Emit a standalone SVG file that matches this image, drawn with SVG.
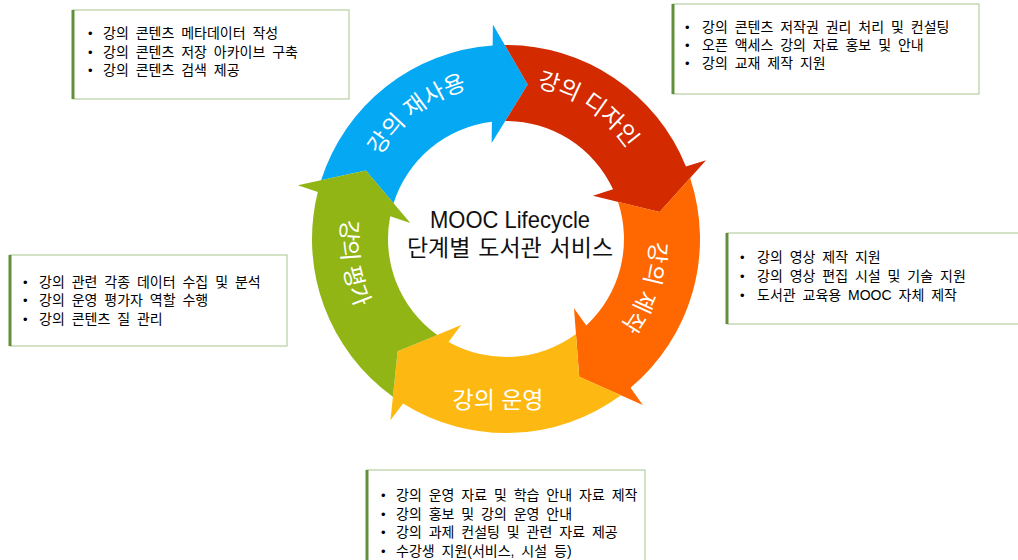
<svg xmlns="http://www.w3.org/2000/svg" width="1018" height="560" viewBox="0 0 1018 560">
<defs>
<path id="arrow" d="M77.83 -177.71 A194 194 0 0 1 193.87 6.96 L214.8 9.38 L151.37 37.74 L96.91 -4.23 L117.99 -1.8 A118 118 0 0 0 47.3 -108.1 L82.67 -132.3 Z"/>
<path id="arcReuse" d="M361.25 249.06 A146 146 0 0 1 561.87 95.11"/>
<path id="arcDesign" d="M442.23 98.66 A146 146 0 0 1 651.63 240.44"/>
<path id="arcProd" d="M614.68 144.53 A144 144 0 0 1 533.48 380.35"/>
<path id="arcEval" d="M402.16 110.77 A165 165 0 0 0 446.87 393.04"/>
</defs>
<style>
.box{fill:#fff;stroke:#A7C38E;stroke-width:1}
.edge{stroke:#628F3A;stroke-width:3}
.bt{font-family:"Liberation Sans","Noto Sans CJK KR",sans-serif;font-size:14px;fill:#000;word-spacing:3px}
.bl{font-family:"Liberation Sans",sans-serif;font-size:13px;fill:#000}
.lbl{font-family:"Liberation Sans","Noto Sans CJK KR",sans-serif;font-size:23px;fill:#fff}
.ctr{font-family:"Liberation Sans","Noto Sans CJK KR",sans-serif;fill:#111;text-anchor:middle}
</style>
<rect width="1018" height="560" fill="#fff"/>

<g id="cycle">
<g id="stage-reuse">
<use href="#arrow" transform="translate(506 239) rotate(-96)" fill="#05A8F3"/>
<text class="lbl"><textPath href="#arcReuse" startOffset="50%" text-anchor="middle">강의 재사용</textPath></text>
</g>
<g id="stage-design">
<use href="#arrow" transform="translate(506 239) rotate(-24)" fill="#D32A00"/>
<text class="lbl"><textPath href="#arcDesign" startOffset="50%" text-anchor="middle">강의 디자인</textPath></text>
</g>
<g id="stage-production">
<use href="#arrow" transform="translate(506 239) rotate(48)" fill="#FF6700"/>
<text class="lbl"><textPath href="#arcProd" startOffset="50%" text-anchor="middle">강의 제작</textPath></text>
</g>
<g id="stage-operation">
<use href="#arrow" transform="translate(506 239) rotate(120)" fill="#FDB912"/>
<text class="lbl" x="498" y="408" text-anchor="middle">강의 운영</text>
</g>
<g id="stage-evaluation">
<use href="#arrow" transform="translate(506 239) rotate(192)" fill="#90B514"/>
<text class="lbl"><textPath href="#arcEval" startOffset="50%" text-anchor="middle">강의 평가</textPath></text>
</g>
</g>

<g id="center-title">
<text class="ctr" x="510" y="228" font-size="24" textLength="160" lengthAdjust="spacingAndGlyphs">MOOC Lifecycle</text>
<text class="ctr" x="510" y="256" font-size="23" word-spacing="1.5">단계별 도서관 서비스</text>
</g>

<g id="box-reuse">
<rect class="box" x="73" y="10" width="276" height="89"/>
<line class="edge" x1="73" y1="10" x2="73" y2="99"/>
<text class="bl" x="88" y="38">•</text><text class="bt" x="103" y="38">강의 콘텐츠 메타데이터 작성</text>
<text class="bl" x="88" y="57">•</text><text class="bt" x="103" y="57">강의 콘텐츠 저장 아카이브 구축</text>
<text class="bl" x="88" y="75">•</text><text class="bt" x="103" y="75">강의 콘텐츠 검색 제공</text>
</g>

<g id="box-design">
<rect class="box" x="673" y="4" width="306" height="90"/>
<line class="edge" x1="673" y1="4" x2="673" y2="94"/>
<text class="bl" x="685" y="32">•</text><text class="bt" x="702" y="32">강의 콘텐츠 저작권 권리 처리 및 컨설팅</text>
<text class="bl" x="685" y="50">•</text><text class="bt" x="702" y="50">오픈 액세스 강의 자료 홍보 및 안내</text>
<text class="bl" x="685" y="68">•</text><text class="bt" x="702" y="68">강의 교재 제작 지원</text>
</g>

<g id="box-production">
<rect class="box" x="727" y="233" width="300" height="91"/>
<line class="edge" x1="727" y1="233" x2="727" y2="324"/>
<text class="bl" x="740" y="262">•</text><text class="bt" x="757" y="262">강의 영상 제작 지원</text>
<text class="bl" x="740" y="281">•</text><text class="bt" x="757" y="281">강의 영상 편집 시설 및 기술 지원</text>
<text class="bl" x="740" y="300">•</text><text class="bt" x="757" y="300">도서관 교육용 MOOC 자체 제작</text>
</g>

<g id="box-evaluation">
<rect class="box" x="10" y="255" width="277" height="91"/>
<line class="edge" x1="10" y1="255" x2="10" y2="346"/>
<text class="bl" x="23" y="287">•</text><text class="bt" x="39" y="287">강의 관련 각종 데이터 수집 및 분석</text>
<text class="bl" x="23" y="305">•</text><text class="bt" x="39" y="305">강의 운영 평가자 역할 수행</text>
<text class="bl" x="23" y="324">•</text><text class="bt" x="39" y="324">강의 콘텐츠 질 관리</text>
</g>

<g id="box-operation">
<rect class="box" x="367" y="470" width="278" height="100"/>
<line class="edge" x1="367" y1="470" x2="367" y2="570"/>
<text class="bl" x="381" y="500">•</text><text class="bt" x="396" y="500">강의 운영 자료 및 학습 안내 자료 제작</text>
<text class="bl" x="381" y="519">•</text><text class="bt" x="396" y="519">강의 홍보 및 강의 운영 안내</text>
<text class="bl" x="381" y="537">•</text><text class="bt" x="396" y="537">강의 과제 컨설팅 및 관련 자료 제공</text>
<text class="bl" x="381" y="556">•</text><text class="bt" x="396" y="556">수강생 지원(서비스, 시설 등)</text>
</g>
</svg>
